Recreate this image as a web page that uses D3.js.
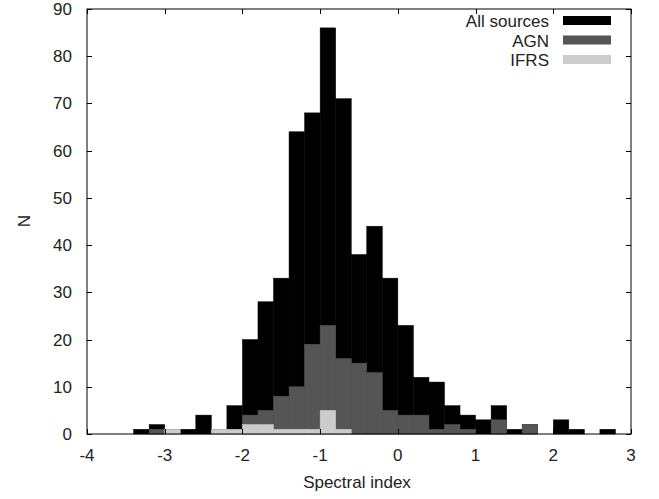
<!DOCTYPE html>
<html>
<head>
<meta charset="utf-8">
<script src="https://cdn.jsdelivr.net/npm/d3@7"></script>
<style>
  body { margin: 0; background: #fff; }
  text { font-family: "Liberation Sans", Arial, sans-serif; font-size: 17px; fill: #222; }
</style>
</head>
<body>
<svg id="chart" width="659" height="499"></svg>
<script>
// Bin left edges (width 0.2)
const binStarts = [-3.4,-3.2,-3.0,-2.8,-2.6,-2.4,-2.2,-2.0,-1.8,-1.6,-1.4,-1.2,-1.0,-0.8,-0.6,-0.4,-0.2,0.0,0.2,0.4,0.6,0.8,1.0,1.2,1.4,1.6,1.8,2.0,2.2,2.4,2.6];
const allSources = [1,2,1,1,4,1,6,20,28,33,64,68,86,71,38,44,33,23,12,11,6,4,3,6,1,2,0,3,1,0,1];
const agn        = [0,1,0,0,0,0,0,4,5,8,10,19,23,16,15,13,5,4,4,1,2,1,0,3,0,2,0,0,0,0,0];
const ifrs       = [0,0,1,0,0,1,1,2,2,1,1,1,5,1,0,0,0,0,0,0,0,0,0,0,0,0,0,0,0,0,0];
const binWidth = 0.2;
const seriesNames = ["All sources","AGN","IFRS"];
const seriesColors = ["#000000","#555555","#cccccc"];
const xTicks = [-4,-3,-2,-1,0,1,2,3];
const yTicks = [0,10,20,30,40,50,60,70,80,90];

const svg = d3.select("#chart");
const L = 87, R = 631, T = 9, B = 434;
const x = d3.scaleLinear().domain([-4,3]).range([L,R]);
const y = d3.scaleLinear().domain([0,90]).range([B,T]);

const series = [allSources, agn, ifrs];
series.forEach((vals, si) => {
  svg.append("g").selectAll("rect")
    .data(binStarts.map((b,i)=>({b, v: vals[i]})).filter(d=>d.v>0))
    .join("rect")
    .attr("x", d => x(d.b))
    .attr("width", d => x(d.b+binWidth) - x(d.b))
    .attr("y", d => y(d.v))
    .attr("height", d => y(0) - y(d.v))
    .attr("fill", seriesColors[si])
    .attr("stroke", seriesColors[si])
    .attr("stroke-width", 0.5);
});

// frame
svg.append("rect").attr("x",L).attr("y",T).attr("width",R-L).attr("height",B-T)
  .attr("fill","none").attr("stroke","#000").attr("stroke-width",1);

const tk = 5;
// y ticks (inward, mirrored)
yTicks.forEach(t => {
  const yy = Math.round(y(t))+0.5;
  svg.append("line").attr("x1",L).attr("x2",L+tk).attr("y1",yy).attr("y2",yy).attr("stroke","#000");
  svg.append("line").attr("x1",R).attr("x2",R-tk).attr("y1",yy).attr("y2",yy).attr("stroke","#000");
  svg.append("text").attr("x",72).attr("y",y(t)+6).attr("text-anchor","end").text(t);
});
// x ticks
xTicks.forEach(t => {
  const xx = Math.round(x(t))+0.5;
  svg.append("line").attr("x1",xx).attr("x2",xx).attr("y1",B).attr("y2",B-tk).attr("stroke","#000");
  svg.append("line").attr("x1",xx).attr("x2",xx).attr("y1",T).attr("y2",T+tk).attr("stroke","#000");
  svg.append("text").attr("x",x(t)).attr("y",461).attr("text-anchor","middle").text(t);
});

svg.append("text").attr("x",357).attr("y",488).attr("text-anchor","middle").text("Spectral index");
svg.append("text").attr("transform","translate(30,221) rotate(-90)").attr("text-anchor","middle").text("N");

// legend
seriesNames.forEach((n,i) => {
  const by = 27 + i*19.5;
  svg.append("text").attr("x",549).attr("y",by).attr("text-anchor","end").text(n);
  svg.append("rect").attr("x",563).attr("y",by-11).attr("width",48).attr("height",9)
    .attr("fill",seriesColors[i]);
});
</script>
</body>
</html>
